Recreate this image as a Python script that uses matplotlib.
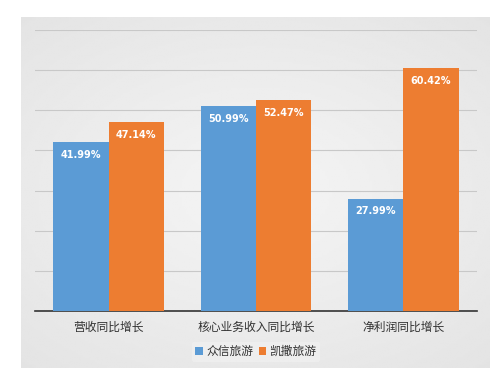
import numpy as np
import matplotlib
matplotlib.use("Agg")
import matplotlib.pyplot as plt

plt.rcParams['font.family'] = ['Noto Sans CJK SC', 'DejaVu Sans']

categories = ['营收同比增长', '核心业务收入同比增长', '净利润同比增长']
series_names = ['众信旅游', '凯撒旅游']
zhongxin = [41.99, 50.99, 27.99]
kaisa = [47.14, 52.47, 60.42]

fig = plt.figure(figsize=(5, 3.76), dpi=100)
fig.patch.set_facecolor('white')

# gray panel with soft radial gradient
bg = fig.add_axes([21/500, 1 - 368/376, 468/500, 351/376])
yy, xx = np.mgrid[-1:1:200j, -1:1:200j]
r = np.sqrt(xx**2 * 0.8 + yy**2)
bg.imshow(0.96 - 0.07 * np.clip(r, 0, 1.4) / 1.4, cmap='gray', vmin=0, vmax=1,
          aspect='auto', extent=[0, 1, 0, 1])
bg.set_axis_off()

ax = fig.add_axes([35/500, 1 - 311/376, 442/500, 281/376])
ax.set_facecolor('none')

x = np.arange(len(categories))
w = 0.375
colors = ['#5b9bd5', '#ed7d31']
for i, (vals, c) in enumerate(zip([zhongxin, kaisa], colors)):
    pos = x - w / 2 + i * w
    bars = ax.bar(pos, vals, width=w, color=c, label=series_names[i], zorder=3)
    for b, v in zip(bars, vals):
        ax.text(b.get_x() + b.get_width() / 2, v - 3.2, f'{v:.2f}%', ha='center',
                va='center', color='white', fontsize=7, fontweight='bold',
                family=['DejaVu Sans'], zorder=4)

ax.set_xlim(-0.5, 2.5)
ax.set_ylim(0, 70)
ax.set_yticks(np.arange(0, 71, 10))
ax.yaxis.grid(True, color='#c8c8c8', linewidth=0.8, zorder=0)
ax.tick_params(left=False, labelleft=False, bottom=False)
ax.set_xticks(x)
ax.set_xticklabels(categories, fontsize=8.5, color='#333333')
for s in ['top', 'right', 'left']:
    ax.spines[s].set_visible(False)
ax.spines['bottom'].set_color('#333333')
ax.spines['bottom'].set_linewidth(1.2)

leg = ax.legend(loc='center', bbox_to_anchor=(0.5, -0.145), ncol=2, frameon=True,
                fontsize=8.5, handlelength=0.6, handleheight=0.6, handletextpad=0.3,
                columnspacing=0.5, borderpad=0.3, framealpha=0.6, edgecolor='none',
                facecolor='#f2f2f2')
for t in leg.get_texts():
    t.set_color('#333333')

fig.savefig('out.png', dpi=100)
